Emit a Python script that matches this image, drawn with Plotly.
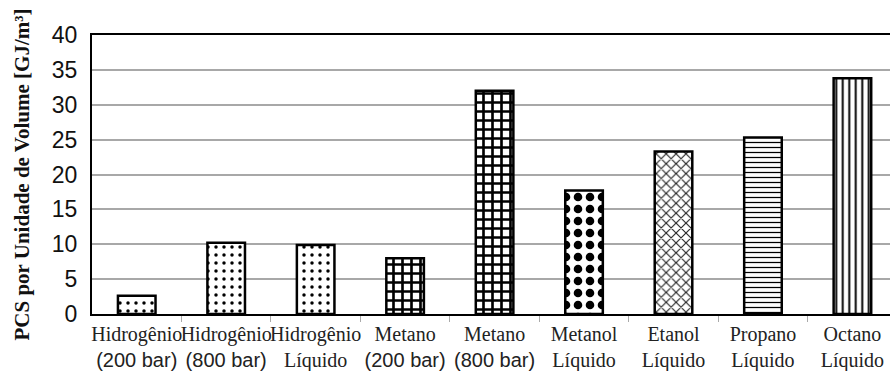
import plotly.graph_objects as go

line1 = ["Hidrogênio", "Hidrogênio", "Hidrogênio", "Metano", "Metano",
         "Metanol", "Etanol", "Propano", "Octano"]
line2 = ["(200 bar)", "(800 bar)", "Líquido", "(200 bar)", "(800 bar)",
         "Líquido", "Líquido", "Líquido", "Líquido"]
values = [2.6, 10.2, 9.9, 8.0, 32.0, 17.7, 23.3, 25.3, 33.8]
y_ticks = [0, 5, 10, 15, 20, 25, 30, 35, 40]

shapes = [".", ".", ".", "+", "+", ".", "x", "-", "|"]
sizes = [8, 8, 8, 9, 9, 12, 7, 5, 6.5]
solid = [0.15, 0.15, 0.15, 0.5, 0.5, 0.4, 0.3, 0.25, 0.3]
fg = ["#000", "#000", "#000", "#000", "#000", "#000", "#222", "#000", "#000"]

SANS = "Liberation Sans, Arial, sans-serif"
SERIF = "Liberation Serif, Times New Roman, serif"

def label(a, b):
    f2 = SANS if "bar" in b else SERIF
    return (f'<span style="font-family:{SERIF}">{a}</span><br>'
            f'<span style="font-family:{f2}">{b}</span>')

x = list(range(len(values)))
ticktext = [label(a, b) for a, b in zip(line1, line2)]

fig = go.Figure()
fig.add_trace(go.Bar(
    x=x, y=values, width=0.42,
    marker=dict(
        color="white",
        line=dict(color="black", width=2.5),
        pattern=dict(shape=shapes, size=sizes, solidity=solid,
                     fgcolor=fg, bgcolor="white", fgopacity=1),
    ),
))

fig.update_layout(
    width=890, height=371,
    margin=dict(l=92, r=0, t=35, b=57),
    paper_bgcolor="white", plot_bgcolor="white",
    showlegend=False,
)
fig.update_xaxes(
    range=[-0.5, 8.42], automargin=False, tickangle=0,
    tickmode="array", tickvals=x, ticktext=ticktext,
    ticks="", showgrid=False, ticklabelstandoff=1,
    showline=True, linecolor="black", linewidth=2, mirror=True,
    tickfont=dict(size=20, color="#222", family=SERIF),
    minor=dict(tickmode="array", tickvals=[i + 0.5 for i in x],
               ticks="outside", ticklen=6, tickcolor="#aaa",
               tickwidth=1, showgrid=False),
)
fig.update_yaxes(
    range=[0, 40], tickmode="array", tickvals=y_ticks, automargin=False,
    showgrid=True, gridcolor="#a8a8a8", gridwidth=1.5,
    showline=True, linecolor="black", linewidth=2, mirror=False,
    tickfont=dict(size=23, color="#111", family=SANS),
    ticks="", ticklabelstandoff=8, zeroline=False,
    title=dict(text="<b>PCS por Unidade de Volume [GJ/m³]</b>",
               font=dict(size=21, family=SERIF, color="#111"),
               standoff=16),
)

fig.write_html("out.html", config={"displayModeBar": False},
               post_script="document.body.style.margin='0';")
